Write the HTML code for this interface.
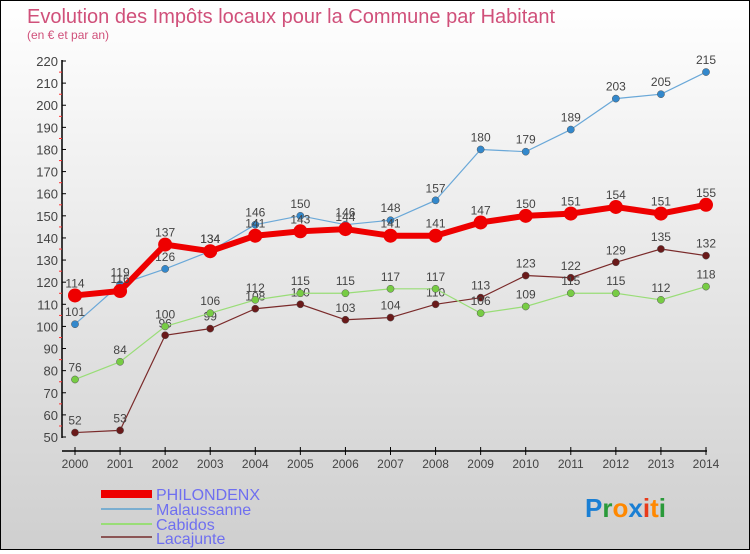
<!DOCTYPE html>
<html><head><meta charset="utf-8"><style>
html,body{margin:0;padding:0}
body{width:750px;height:550px;overflow:hidden;font-family:"Liberation Sans",sans-serif}
#wrap{position:relative;width:748px;height:548px;border:1px solid #000;background:linear-gradient(#ffffff,#cfcfcf)}
</style></head><body>
<div id="wrap">
<svg id="chart" width="748" height="548">
<text x="26" y="22" font-size="20" fill="#d0507a" font-weight="normal">Evolution des Impôts locaux pour la Commune par Habitant</text>
<text x="26" y="38" font-size="12" fill="#d0507a">(en € et par an)</text>
<g id="axes"></g><g id="series"></g>
<g>
<rect x="100" y="489" width="51" height="8" fill="#ee0000"/>
<text x="155" y="499" font-size="16" fill="#6f6ff0">PHILONDENX</text>
<rect x="100" y="507" width="51" height="2" fill="#7aaed0"/>
<text x="155" y="514" font-size="16" fill="#6f6ff0">Malaussanne</text>
<rect x="100" y="522" width="51" height="2" fill="#99dd77"/>
<text x="155" y="529" font-size="16" fill="#6f6ff0">Cabidos</text>
<rect x="100" y="535" width="51" height="2" fill="#8b5555"/>
<text x="155" y="543" font-size="16" fill="#6f6ff0">Lacajunte</text>
</g>
<g font-size="26" font-weight="bold">
<text x="584" y="516"><tspan fill="#1a7fd4">P</tspan><tspan fill="#2a9a3a">r</tspan><tspan fill="#ff8800">o</tspan><tspan fill="#1a7fd4">x</tspan><tspan fill="#e83a1a">i</tspan><tspan fill="#ff8800">t</tspan><tspan fill="#2a9a3a">i</tspan></text>
</g>
</svg>
</div>
<script>
const years=[2000,2001,2002,2003,2004,2005,2006,2007,2008,2009,2010,2011,2012,2013,2014];
const philondenx=[114,116,137,134,141,143,144,141,141,147,150,151,154,151,155];
const malaussanne=[101,119,126,134,146,150,146,148,157,180,179,189,203,205,215];
const cabidos=[76,84,100,106,112,115,115,117,117,106,109,115,115,112,118];
const lacajunte=[52,53,96,99,108,110,103,104,110,113,123,122,129,135,132];
const yTicks=[50,60,70,80,90,100,110,120,130,140,150,160,170,180,190,200,210,220];
const NS="http://www.w3.org/2000/svg";
function xs(i){return 74+i*(705-74)/(years.length-1);}
function ys(v){return 436-(v-50)*(436-60)/170;}
function mk(t,a,p){const e=document.createElementNS(NS,t);for(const k in a)e.setAttribute(k,a[k]);p.appendChild(e);return e;}
const ax=document.getElementById('axes');
const yl=mk('line',{x1:61,y1:59,x2:61,y2:437,stroke:'#000','stroke-width':1.5},ax);

const xl=mk('line',{x1:61,y1:450,x2:706,y2:450,stroke:'#000','stroke-width':1.5},ax);

yTicks.forEach(v=>{
 const y=ys(v);
 mk('line',{x1:61,y1:y,x2:65,y2:y,stroke:'#000'},ax);
 if(v<220){mk('line',{x1:58,y1:y-11,x2:61,y2:y-11,stroke:'#ff3333'},ax);}
 const t=mk('text',{x:57,y:y+5,'font-size':13,fill:'#444','text-anchor':'end'},ax);
 t.textContent=v;
});
years.forEach((yr,i)=>{
 const x=xs(i);
 mk('line',{x1:x,y1:446,x2:x,y2:454,stroke:'#000'},ax);
 const t=mk('text',{x:x,y:467,'font-size':12,fill:'#444','text-anchor':'middle'},ax);
 t.textContent=yr;
});
const sg=document.getElementById('series');
function draw(vals,name,color,dot,w,r){
 const g=mk('g',{},sg);
 
 const pl=mk('polyline',{points:vals.map((v,i)=>xs(i)+','+ys(v)).join(' '),fill:'none',stroke:color,'stroke-width':w},g);
 
 vals.forEach((v,i)=>{
  const c=mk('circle',{cx:xs(i),cy:ys(v),r:r,fill:dot,stroke:w>3?color:'#555','stroke-width':w>3?0:0.5},g);
  
  const t=mk('text',{x:xs(i),y:ys(v)-8,'font-size':12,fill:'#444','text-anchor':'middle'},g);
  t.textContent=v;
 });
}
draw(lacajunte,'lacajunte','#7a2a2a','#6a1a1a',1.2,3.6);
draw(cabidos,'cabidos','#99dd77','#77cc44',1.2,3.6);
draw(malaussanne,'malaussanne','#6aa8d8','#3388cc',1.2,3.6);
draw(philondenx,'philondenx','#ee0000','#ee0000',6,7);
</script>
</body></html>
